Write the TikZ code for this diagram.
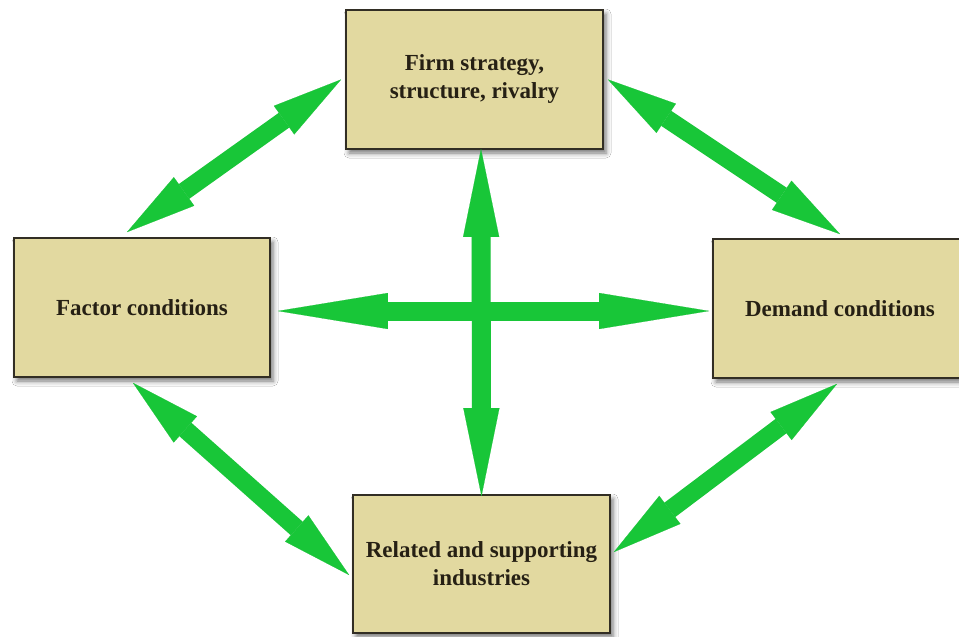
\documentclass[tikz,border=0pt]{standalone}
\usepackage{fontspec}
\setmainfont{Liberation Serif}
\usetikzlibrary{arrows.meta,calc,shadows.blur}
\definecolor{boxfill}{RGB}{226,217,160}
\definecolor{boxline}{RGB}{50,46,36}
\definecolor{arrgreen}{RGB}{24,198,56}
\definecolor{txt}{RGB}{38,32,20}
\begin{document}
\begin{tikzpicture}[x=1pt,y=-1pt,
  factor/.style={draw=boxline, line width=1.8pt, fill=boxfill, inner sep=0pt,
    align=center, font=\fontsize{23}{28}\selectfont\bfseries, text=txt,
    blur shadow={shadow xshift=3pt, shadow yshift=-4pt, shadow blur radius=5pt, shadow opacity=55}},
  dbl/.style={draw=arrgreen, line width=18pt,
    {Triangle[length=70pt,width=35pt,line width=0.1pt]}-{Triangle[length=70pt,width=35pt,line width=0.1pt]}},
  dbllong/.style={draw=arrgreen, line width=19pt,
    {Triangle[length=#1,width=36pt,line width=0.1pt]}-{Triangle[length=#1,width=36pt,line width=0.1pt]}},
  arrshadow/.style={draw=black!60, opacity=0.12, xshift=2pt, yshift=-4pt}
]
\path[use as bounding box, clip] (0,0) rectangle (959,637);
\fill[white] (0,0) rectangle (959,637);

\node[factor, minimum width=257pt, minimum height=139pt] (top) at (474.5,79.5) {Firm strategy,\\structure, rivalry};
\node[factor, minimum width=256pt, minimum height=139pt] (left) at (142,307.5) {Factor conditions};
\node[factor, minimum width=254pt, minimum height=139pt] (right) at (840,308.5) {Demand conditions};
\node[factor, minimum width=257pt, minimum height=138pt] (bottom) at (481.5,564) {Related and supporting\\industries};

\foreach \st in {arrshadow,{}}{
\draw[dbl,\st] ($(left.north)+(-15,-5)$) -- ($(top.west)+(-4,0)$);
\draw[dbl,\st] ($(top.east)+(4,0)$) -- ($(right.north)+(0,-4)$);
\draw[dbl,\st] ($(left.south)+(-9,5)$) -- ($(bottom.west)+(-3,11)$);
\draw[dbl,\st] ($(bottom.east)+(3,-12)$) -- ($(right.south)+(-3,5)$);
\draw[dbllong=110pt,\st] ($(left.east)+(7,3.5)$) -- ($(right.west)+(-3,2.5)$);
\draw[dbllong=88pt,\st] ($(top.south)+(6.5,-1)$) -- ($(bottom.north)+(0,2)$);
}
\end{tikzpicture}
\end{document}
